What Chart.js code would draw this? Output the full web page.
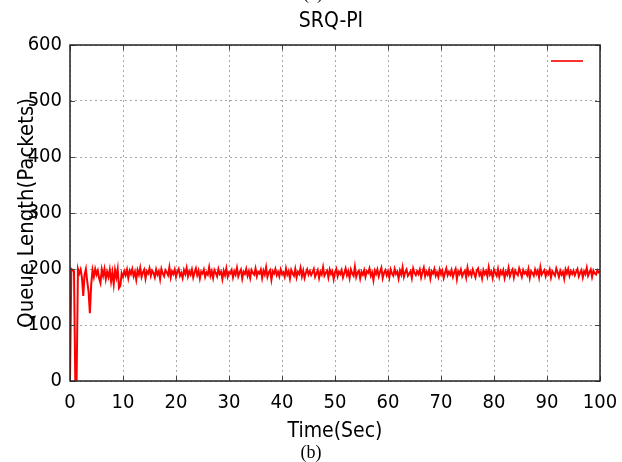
<!DOCTYPE html>
<html>
<head>
<meta charset="utf-8">
<script src="https://cdn.jsdelivr.net/npm/chart.js@4.4.1/dist/chart.umd.min.js"></script>
<style>
  html, body { margin: 0; padding: 0; background: #fff; }
  canvas { display: block; }
</style>
</head>
<body>
<canvas id="grafico" width="622" height="462"></canvas>
<script>
// sampling step of the trace, seconds
const PASSO = 0.25;

// queue length (packets), start-up transient 0..10 s
const filaInicio = [
  0, 200, 198, 196, 0, 2, 200, 192, 199, 185, 152, 190, 200, 178, 160, 121, 172, 198, 186, 200,
  190, 197, 183, 175, 199, 188, 200, 182, 195, 186, 199, 178, 194, 173, 198, 185, 200, 166, 170, 192,
  186
];

// queue length (packets), steady state 10.25..100 s
const filaEstavel = [
  196,189,199,184,197,191,200,187,195,181,198,190,202,186,194,199,183,196,192,201,
  188,197,193,185,199,190,196,182,200,192,187,198,194,189,203,185,196,191,199,186,
  195,200,188,193,184,198,191,202,187,196,190,199,185,194,201,189,197,183,195,192,
  199,186,194,190,203,188,196,184,198,193,187,200,191,195,182,197,189,201,186,194,
  192,198,185,196,190,202,187,194,199,183,195,191,200,188,196,184,198,193,190,201,
  187,195,192,199,184,197,190,203,186,194,198,181,196,192,200,189,195,187,199,191,
  194,186,201,190,196,183,198,192,188,200,185,195,191,202,187,197,184,193,199,190,
  196,189,194,200,186,192,198,184,195,190,203,188,193,197,185,199,191,196,182,194,
  200,187,195,191,198,185,193,201,189,196,184,199,192,188,204,186,194,197,183,195,
  190,198,186,196,193,201,188,194,180,197,191,199,187,195,202,184,193,198,189,196,
  185,199,192,188,200,191,195,183,197,190,203,186,194,199,188,192,196,184,201,193,
  189,196,191,199,185,194,202,187,195,190,198,183,196,192,200,188,194,186,199,191,
  197,184,193,201,189,195,190,198,186,194,200,182,196,191,199,187,193,197,185,202,
  190,195,188,199,192,185,197,201,189,194,183,198,191,196,187,203,190,195,184,199,
  193,188,200,186,196,191,198,184,195,190,202,187,194,199,185,197,192,189,201,194,
  186,198,192,195,189,200,184,196,193,188,199,191,197,185,203,190,194,198,187,195,
  191,199,185,196,192,188,201,194,186,197,190,195,183,199,192,200,188,196,191,197,
  189,195,200,187,193,198,185,196,191,202,188,194,199,186,197,192,190,198,194,196
];

const eixoX = { min: 0, max: 100, passo: 10 };
const eixoY = { min: 0, max: 600, passo: 100 };

const TITULO = 'SRQ-PI';
const ROTULO_X = 'Time(Sec)';
const ROTULO_Y = 'Queue Length(Packets)';

const fila = filaInicio.concat(filaEstavel);
const pontos = fila.map((v, i) => ({ x: i * PASSO, y: v }));

const FONTE = "'Liberation Sans Narrow', 'DejaVu Sans Condensed', sans-serif";

// frame, inner ticks, legend sample and the loose captions
const moldura = {
  id: 'moldura',
  afterDraw(chart) {
    const { ctx, chartArea: a, scales } = chart;
    ctx.save();
    ctx.strokeStyle = '#444';
    ctx.lineWidth = 1;
    scales.x.ticks.forEach(t => {
      const px = Math.round(scales.x.getPixelForValue(t.value)) + 0.5;
      ctx.beginPath();
      ctx.moveTo(px, a.bottom); ctx.lineTo(px, a.bottom - 5);
      ctx.moveTo(px, a.top); ctx.lineTo(px, a.top + 5);
      ctx.stroke();
    });
    scales.y.ticks.forEach(t => {
      const py = Math.round(scales.y.getPixelForValue(t.value)) + 0.5;
      ctx.beginPath();
      ctx.moveTo(a.left, py); ctx.lineTo(a.left + 5, py);
      ctx.moveTo(a.right, py); ctx.lineTo(a.right - 5, py);
      ctx.stroke();
    });
    ctx.strokeStyle = '#222';
    ctx.lineWidth = 1.5;
    ctx.strokeRect(a.left, a.top, a.right - a.left, a.bottom - a.top);

    // legend sample, no text
    ctx.strokeStyle = '#ff3030';
    ctx.lineWidth = 2;
    ctx.beginPath();
    ctx.moveTo(a.right - 49, a.top + 16);
    ctx.lineTo(a.right - 17, a.top + 16);
    ctx.stroke();

    ctx.fillStyle = '#000';
    ctx.textAlign = 'center';
    ctx.textBaseline = 'middle';
    ctx.font = "21px " + FONTE;
    ctx.fillText(TITULO, 331, 22);
    ctx.font = "18px 'Liberation Serif', serif";
    ctx.fillText('(a)', 313, -6);
    ctx.fillText('(b)', 311, 453);
    ctx.restore();
  }
};

new Chart(document.getElementById('grafico'), {
  type: 'line',
  data: {
    datasets: [{
      data: pontos,
      borderColor: '#ff0000',
      borderWidth: 2,
      pointRadius: 0,
      tension: 0,
      fill: false
    }]
  },
  options: {
    responsive: false,
    animation: false,
    devicePixelRatio: 1,
    layout: { padding: { left: 10, right: 22, top: 45, bottom: 14 } },
    plugins: { legend: { display: false }, tooltip: { enabled: false } },
    scales: {
      x: {
        type: 'linear',
        min: eixoX.min, max: eixoX.max,
        afterFit: s => { s.height = 67; s.paddingLeft = 0; s.paddingRight = 0; },
        ticks: { stepSize: eixoX.passo, color: '#000', padding: 10, maxRotation: 0,
                 font: { family: FONTE, size: 20 } },
        grid: { color: '#a8a8a8', drawTicks: false },
        border: { display: false, dash: [2, 3] },
        title: { display: true, text: ROTULO_X, color: '#000', font: { family: FONTE, size: 21 } }
      },
      y: {
        min: eixoY.min, max: eixoY.max,
        afterFit: s => { s.width = 60; s.paddingTop = 0; s.paddingBottom = 0; },
        ticks: { stepSize: eixoY.passo, color: '#000', padding: 8,
                 font: { family: FONTE, size: 20 } },
        grid: { color: '#a8a8a8', drawTicks: false },
        border: { display: false, dash: [2, 3] },
        title: { display: true, text: ROTULO_Y, color: '#000', font: { family: FONTE, size: 22 } }
      }
    }
  },
  plugins: [moldura]
});
</script>
</body>
</html>
